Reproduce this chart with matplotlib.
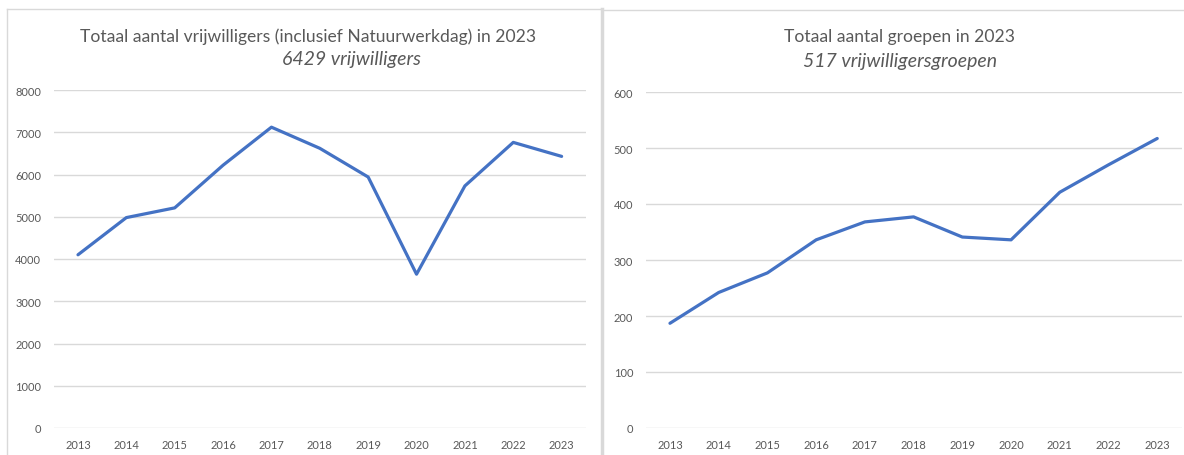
import matplotlib
matplotlib.use("Agg")
import matplotlib.pyplot as plt
from matplotlib.lines import Line2D

plt.rcParams['font.family'] = ['Lato', 'DejaVu Sans']

years = ["2013", "2014", "2015", "2016", "2017", "2018", "2019", "2020", "2021", "2022", "2023"]
volunteers = [4100, 4980, 5210, 6220, 7120, 6620, 5940, 3640, 5730, 6760, 6429]
groups = [187, 242, 277, 336, 368, 377, 341, 336, 421, 470, 517]

W, H = 1184, 456
blue = "#4472C4"
grid = "#D9D9D9"
text_col = "#595959"

fig = plt.figure(figsize=(W / 100, H / 100), dpi=100)
fig.patch.set_facecolor("white")


def setup(ax, values, ymax, step):
    x = range(len(years))
    ax.plot(x, values, color=blue, lw=2.3, solid_capstyle="round", solid_joinstyle="round")
    ax.set_xlim(-0.5, len(years) - 0.5)
    ax.set_ylim(0, ymax)
    ax.set_yticks(range(0, ymax + 1, step))
    ax.set_xticks(list(x))
    ax.set_xticklabels(years)
    ax.yaxis.grid(True, color=grid, lw=1)
    ax.set_axisbelow(True)
    for s in ax.spines.values():
        s.set_visible(False)
    ax.tick_params(axis="both", length=0, labelsize=8, labelcolor=text_col)
    ax.tick_params(axis="y", pad=9)
    ax.tick_params(axis="x", pad=8)


# left panel
ax1 = fig.add_axes([53.8 / W, 27 / H, 532 / W, 338 / H])
setup(ax1, volunteers, 8000, 1000)

# right panel
ax2 = fig.add_axes([645.6 / W, 27 / H, 536 / W, 336 / H])
setup(ax2, groups, 600, 100)

# titles
fig.text(308 / W, 1 - 37 / H, "Totaal aantal vrijwilligers (inclusief Natuurwerkdag) in 2023",
         ha="center", va="center", fontsize=12.6, color=text_col)
fig.text(351 / W, 1 - 60 / H, "6429 vrijwilligers", ha="center", va="center",
         fontsize=14, style="italic", color=text_col)
fig.text(900 / W, 1 - 37 / H, "Totaal aantal groepen in 2023",
         ha="center", va="center", fontsize=12.6, color=text_col)
fig.text(900 / W, 1 - 61 / H, "517 vrijwilligersgroepen", ha="center", va="center",
         fontsize=14, style="italic", color=text_col)

# panel borders
border = "#D9D9D9"
fig.add_artist(Line2D([7 / W, 7 / W], [0, 1 - 10 / H], color=border, lw=1))
fig.add_artist(Line2D([7 / W, 600 / W], [1 - 10 / H, 1 - 10 / H], color=border, lw=1))
fig.add_artist(Line2D([601.5 / W, 601.5 / W], [0, 1 - 10 / H], color=border, lw=2.5))
fig.add_artist(Line2D([603 / W, 1], [1 - 11 / H, 1 - 11 / H], color=border, lw=1))

fig.savefig("out.png", dpi=100)
